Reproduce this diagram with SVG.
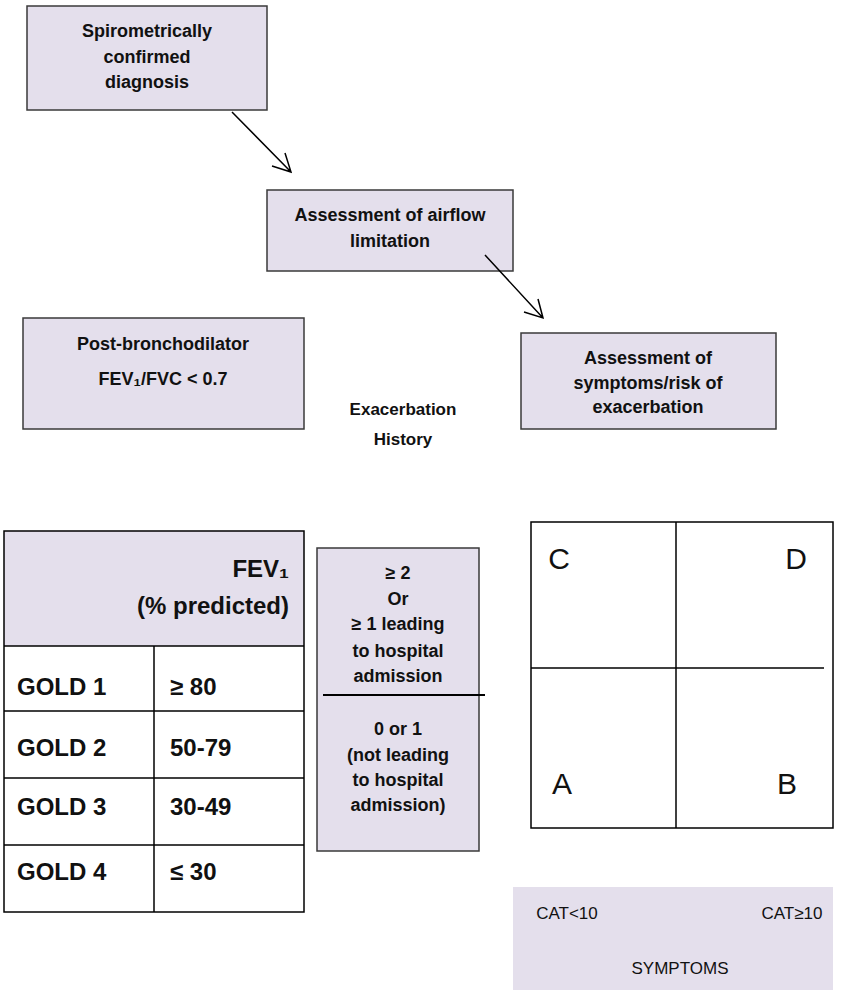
<svg xmlns="http://www.w3.org/2000/svg" width="851" height="990" viewBox="0 0 851 990">
<style>
.box{fill:#e4dfec;stroke:#3a3a3a;stroke-width:1.5}
.b{font-family:"Liberation Sans",Arial,sans-serif;font-weight:bold;font-size:18px;fill:#111;text-anchor:middle}
.t{font-family:"Liberation Sans",Arial,sans-serif;font-weight:bold;font-size:24px;fill:#111}
.r{font-family:"Liberation Sans",Arial,sans-serif;font-size:17px;fill:#111}
.q{font-family:"Liberation Sans",Arial,sans-serif;font-size:30px;fill:#111;text-anchor:middle}
.ln{stroke:#000;stroke-width:1.5;fill:none}
</style>
<rect width="851" height="990" fill="#fff"/>
<g id="spirometry">
<rect class="box" x="27" y="6" width="240" height="104"/>
<text class="b" x="147" y="37">Spirometrically</text>
<text class="b" x="147" y="63">confirmed</text>
<text class="b" x="147" y="88">diagnosis</text>
</g>
<g id="airflow">
<rect class="box" x="267" y="190" width="246" height="81"/>
<text class="b" x="390" y="221">Assessment of airflow</text>
<text class="b" x="390" y="247">limitation</text>
</g>
<g id="postbd">
<rect class="box" x="23" y="318" width="281" height="111"/>
<text class="b" x="163" y="350">Post-bronchodilator</text>
<text class="b" x="163" y="385">FEV₁/FVC &lt; 0.7</text>
</g>
<g id="symptomsrisk">
<rect class="box" x="521" y="333" width="255" height="96"/>
<text class="b" x="648" y="364">Assessment of</text>
<text class="b" x="648" y="389">symptoms/risk of</text>
<text class="b" x="648" y="413">exacerbation</text>
</g>
<g id="exhistlabel">
<text class="b" x="403" y="415" style="font-size:17px">Exacerbation</text>
<text class="b" x="403" y="445" style="font-size:17px">History</text>
</g>
<g id="goldtable">
<rect x="4" y="531" width="300" height="115" fill="#e4dfec"/>
<rect x="4" y="531" width="300" height="381" fill="none" stroke="#000" stroke-width="1.5"/>
<line class="ln" x1="4" y1="646" x2="304" y2="646"/>
<line class="ln" x1="4" y1="711" x2="304" y2="711"/>
<line class="ln" x1="4" y1="778" x2="304" y2="778"/>
<line class="ln" x1="4" y1="845" x2="304" y2="845"/>
<line class="ln" x1="154" y1="646" x2="154" y2="912"/>
<text class="t" x="289" y="577" text-anchor="end">FEV₁</text>
<text class="t" x="289" y="614" text-anchor="end">(% predicted)</text>
<text class="t" x="17" y="695">GOLD 1</text>
<text class="t" x="170" y="695">≥ 80</text>
<text class="t" x="17" y="756">GOLD 2</text>
<text class="t" x="170" y="756">50-79</text>
<text class="t" x="17" y="815">GOLD 3</text>
<text class="t" x="170" y="815">30-49</text>
<text class="t" x="17" y="880">GOLD 4</text>
<text class="t" x="170" y="880">≤ 30</text>
</g>
<g id="exacerbation">
<rect class="box" x="317" y="548" width="162" height="303"/>
<line x1="323" y1="695" x2="485" y2="695" stroke="#000" stroke-width="2"/>
<text class="b" x="398" y="579">≥ 2</text>
<text class="b" x="398" y="605">Or</text>
<text class="b" x="398" y="630">≥ 1 leading</text>
<text class="b" x="398" y="657">to hospital</text>
<text class="b" x="398" y="682">admission</text>
<text class="b" x="398" y="735">0 or 1</text>
<text class="b" x="398" y="761">(not leading</text>
<text class="b" x="398" y="786">to hospital</text>
<text class="b" x="398" y="811">admission)</text>
</g>
<g id="abcd">
<rect x="531" y="522" width="302" height="306" fill="#fff" stroke="#000" stroke-width="1.5"/>
<line class="ln" x1="676" y1="522" x2="676" y2="828"/>
<line class="ln" x1="531" y1="668" x2="824" y2="668"/>
<text class="q" x="559" y="569">C</text>
<text class="q" x="796" y="569">D</text>
<text class="q" x="562" y="794">A</text>
<text class="q" x="787" y="794">B</text>
</g>
<g id="symptoms">
<rect x="513" y="887" width="320" height="103" fill="#e4dfec"/>
<text class="r" x="567" y="919" text-anchor="middle">CAT&lt;10</text>
<text class="r" x="792" y="919" text-anchor="middle">CAT≥10</text>
<text class="r" x="680" y="974" text-anchor="middle">SYMPTOMS</text>
</g>
<g id="connectors">
<path class="ln" d="M232,112 L291,172 M272,166 L291,172 L285,153"/>
<path class="ln" d="M485,255 L543,318 M524,312 L543,318 L538,299"/>
</g>
</svg>
